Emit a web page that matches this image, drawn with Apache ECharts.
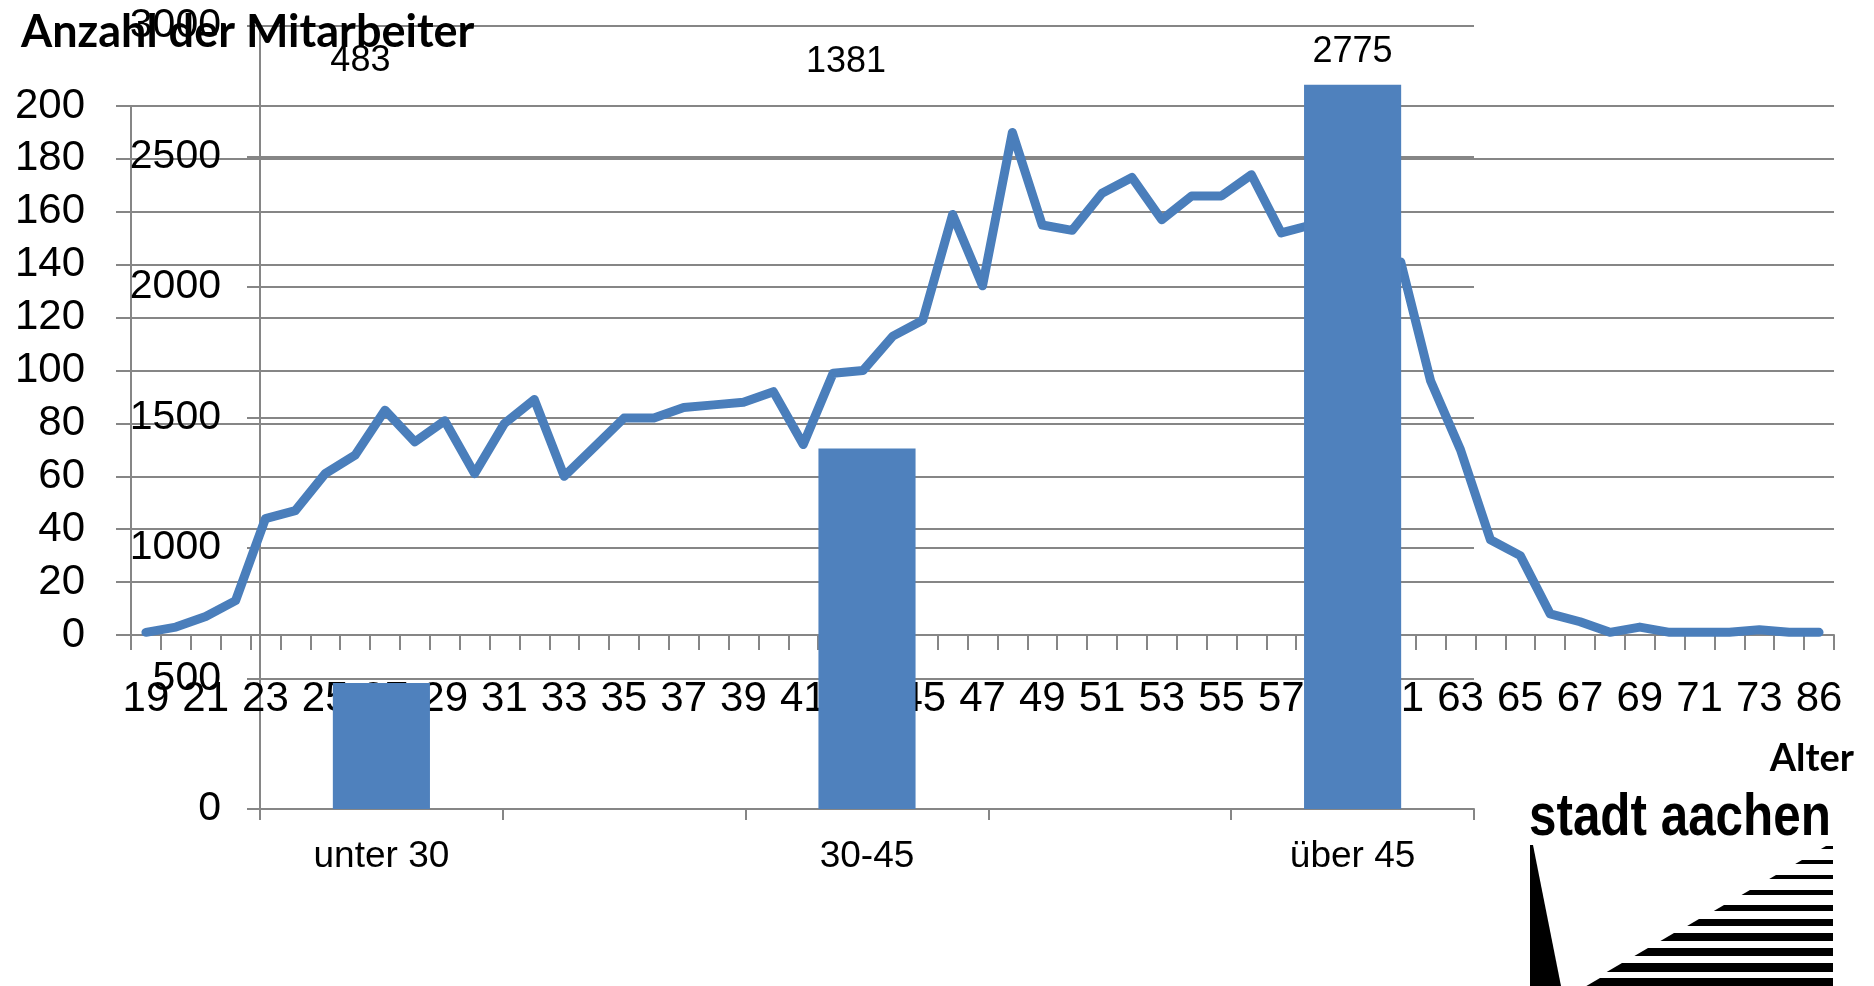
<!DOCTYPE html>
<html lang="de">
<head>
<meta charset="UTF-8">
<title>Anzahl der Mitarbeiter</title>
<script src="https://cdn.jsdelivr.net/npm/echarts@6/dist/echarts.min.js"></script>
<style>html,body{margin:0;padding:0;background:#fff;}</style>
</head>
<body>
<div id="main" style="width:1874px;height:986px;"></div>
<script type="text/javascript">
// Altersverteilung der Mitarbeiter (Linie)
var alter = ['19','20','21','22','23','24','25','26','27','28','29',
    '30','31','32','33','34','35','36','37','38','39','40','41','42','43','44','45',
    '46','47','48','49','50','51','52','53','54','55','56','57','58','59','60',
    '61','62','63','64','65','66','67','68','69','70','71','72','73','74','86'];
var anzahl = [1, 3, 7, 13, 44, 47, 61, 68, 85, 73, 81,
    61, 80, 89, 60, 71, 82, 82, 86, 87, 88, 92, 72, 99, 100, 113, 119,
    159, 132, 190, 155, 153, 167, 173, 157, 166, 166, 174, 152, 155, 143, 136,
    141, 96, 70, 36, 30, 8, 5, 1, 3, 1, 1, 1, 2, 1, 1];

// Altersgruppen (Säulen) - Lücken zwischen den Gruppen
var gruppen = ['unter 30', '', '30-45', '', 'über 45'];
var summen = [483, '-', 1381, '-', 2775];

// Achsen
var yLinie = {min: 0, max: 200, step: 20};
var ySaeule = {min: 0, max: 3000, step: 500};

// Lage der Wertebeschriftungen (wie im Original)
var etikettY = [61, 0, 62, 0, 52];
var etikettDx = [-21, 0, -21, 0, 0];

var grau = '#868686';
var blau = '#4F81BD';
var schrift = '"Liberation Sans", Arial, sans-serif';

var myChart = echarts.init(document.getElementById('main'));

// Logo "stadt aachen" (Streifen)
var streifen = [[846,3,1826],[860,4,1802],[875,4,1776],[890,5,1750],[905,6,1724],
    [919,7,1699],[933,8,1674],[948,8,1648],[963,9,1622],[978,9,1600]];
var logo = [];
streifen.forEach(function (s) {
    logo.push({
        type: 'polygon',
        shape: {points: [[s[2], s[0]], [1833, s[0]], [1833, s[0] + s[1]], [s[2] - s[1] * 1.7, s[0] + s[1]]]},
        style: {fill: '#000'}
    });
});
logo.push({
    type: 'polygon',
    shape: {points: [[1530, 845], [1533, 845], [1561, 986], [1530, 986]]},
    style: {fill: '#000'}
});
logo.push({
    type: 'text',
    x: 1529, y: 788, scaleX: 0.823,
    style: {text: 'stadt aachen', font: 'bold 60px "Liberation Sans", Arial, sans-serif', fill: '#000',
        textAlign: 'left', textVerticalAlign: 'top'}
});
logo.push({
    type: 'text',
    right: 20, top: 740,
    style: {text: 'Alter', font: 'bold 38px Lato, sans-serif', fill: '#000'}
});

myChart.setOption({
    animation: false,
    title: {
        text: 'Anzahl der Mitarbeiter',
        left: 16, top: 5,
        textStyle: {fontFamily: 'Lato', fontWeight: 'bold', fontSize: 45, color: '#000'}
    },
    grid: [
        {left: 131, right: 40, top: 106, bottom: 351, outerBoundsMode: 'none'},
        {left: 260, right: 400, top: 26, bottom: 177, outerBoundsMode: 'none'}
    ],
    xAxis: [
        {
            type: 'category', gridIndex: 0, data: alter, boundaryGap: true,
            axisLine: {lineStyle: {color: grau, width: 2}},
            axisTick: {show: true, interval: 0, length: 15, lineStyle: {color: grau, width: 2}},
            axisLabel: {interval: 1, margin: 43, fontSize: 42, fontFamily: schrift, color: '#000'}
        },
        {
            type: 'category', gridIndex: 1, data: gruppen, boundaryGap: true,
            axisLine: {lineStyle: {color: grau, width: 2}},
            axisTick: {show: true, interval: 0, length: 11, lineStyle: {color: grau, width: 2}},
            axisLabel: {interval: 0, margin: 29, fontSize: 37, fontFamily: schrift, color: '#000'}
        }
    ],
    yAxis: [
        {
            type: 'value', gridIndex: 0, min: yLinie.min, max: yLinie.max, interval: yLinie.step,
            axisLine: {show: true, lineStyle: {color: grau, width: 2}},
            axisTick: {show: true, length: 15, lineStyle: {color: grau, width: 2}},
            splitLine: {lineStyle: {color: grau, width: 2}},
            axisLabel: {margin: 46, fontSize: 42, fontFamily: schrift, color: '#000'}
        },
        {
            type: 'value', gridIndex: 1, min: ySaeule.min, max: ySaeule.max, interval: ySaeule.step,
            axisLine: {show: true, lineStyle: {color: grau, width: 2}},
            axisTick: {show: true, length: 13, lineStyle: {color: grau, width: 2}},
            splitLine: {lineStyle: {color: grau, width: 2}},
            axisLabel: {margin: 39, fontSize: 41, fontFamily: schrift, color: '#000',
                formatter: function (v) { return String(v); }}
        }
    ],
    series: [
        {
            name: 'Mitarbeiter nach Alter',
            type: 'line',
            xAxisIndex: 0, yAxisIndex: 0,
            data: anzahl,
            symbol: 'none',
            z: 2,
            lineStyle: {color: '#4A7EBB', width: 9, join: 'round', cap: 'round'}
        },
        {
            name: 'Altersgruppen',
            type: 'bar',
            xAxisIndex: 1, yAxisIndex: 1,
            data: summen,
            barWidth: '40%',
            z: 3,
            itemStyle: {color: blau},
            label: {show: true, position: 'top', fontSize: 36, fontFamily: schrift, color: '#000'},
            labelLayout: function (p) {
                return {
                    x: p.rect.x + p.rect.width / 2 + etikettDx[p.dataIndex],
                    y: etikettY[p.dataIndex],
                    align: 'center',
                    verticalAlign: 'middle'
                };
            }
        }
    ],
    graphic: logo
});
</script>
</body>
</html>
